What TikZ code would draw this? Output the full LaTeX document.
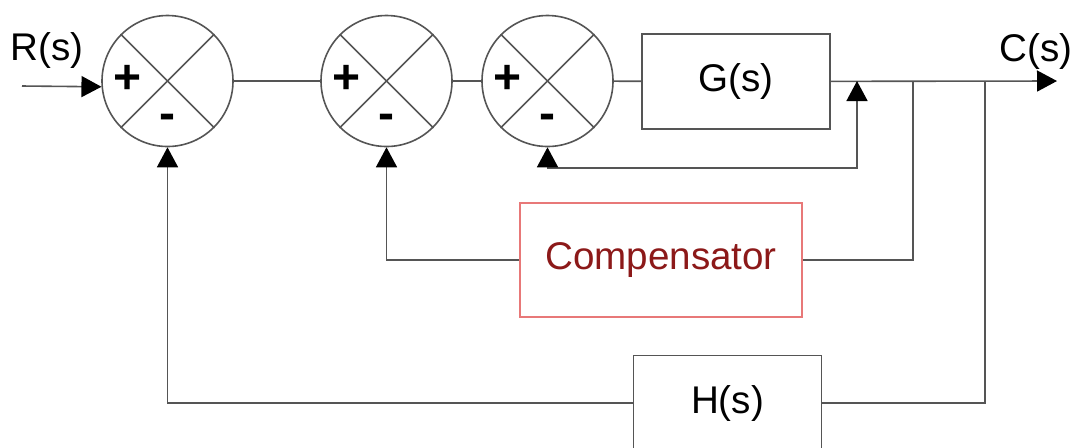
\documentclass[tikz,border=0pt]{standalone}
\usepackage{fontspec}
\setmainfont{Liberation Sans}
\usepackage{xcolor}
\usepackage{tikz}
\usetikzlibrary{positioning,arrows.meta,calc}

\definecolor{linegray}{RGB}{85,85,85}
\definecolor{compred}{RGB}{140,25,25}
\definecolor{compedge}{RGB}{232,120,120}

\begin{document}
\begin{tikzpicture}[
    x=0.5pt, y=-0.5pt,
    sumjunc/.style={draw=linegray, circle, line width=0.8pt, inner sep=0pt, minimum size=65.5pt},
    block/.style={draw=linegray, rectangle, line width=0.8pt, font=\fontsize{19.3}{22}\selectfont, minimum width=94pt, minimum height=47.5pt},
    compblock/.style={draw=compedge, rectangle, line width=0.8pt, text=compred, font=\fontsize{19.3}{22}\selectfont, minimum width=141pt, minimum height=57pt},
    sig/.style={font=\fontsize{19.3}{22}\selectfont},
    sign/.style={font=\fontsize{24}{24}\selectfont\bfseries, inner sep=0pt},
    link/.style={draw=linegray, line width=0.8pt},
    arrow/.style={link, -{Triangle[length=10pt, width=10.5pt, color=black]}},
    twoarrow/.style={link, {Triangle[length=10pt, width=10.5pt, color=black]}-{Triangle[length=10pt, width=10.5pt, color=black]}}
]
    \useasboundingbox (0,0) rectangle (1076,447);

    % forward path
    \node[sumjunc] (s1) at (167.5,81) {};
    \node[sumjunc] (s2) at (386.5,81) {};
    \node[sumjunc] (s3) at (547.5,81) {};
    \node[block] (G) at (736,81.5) {G(s)};

    \coordinate (in) at (22,86);
    \coordinate (out) at (1057,81);
    \coordinate (tapG) at (857,81);
    \coordinate (tapC) at (913,81);
    \coordinate (tapH) at (985,81);
    \coordinate (loopG) at (857,168);

    \node[sig] (R) at (47,50) {R(s)};
    \node[sig] (C) at (1036,52) {C(s)};

    % crosses and signs in the junctions
    \foreach \s in {s1,s2,s3} {
        \draw[link] (\s.45) -- (\s.225);
        \draw[link] (\s.135) -- (\s.315);
        \node[sign] (\s plus) at ([shift={(-40,-2)}]\s.center) {+};
        \node[sign] (\s minus) at ([shift={(0,41)}]\s.center) {-};
    }

    \draw[arrow] (in) -- (s1.185);
    \draw[link] (s1) -- (s2);
    \draw[link] (s2) -- (s3);
    \draw[link] (s3) -- (G);
    \draw[arrow] (G) -- (out);

    % inner loop round G(s)
    \draw[twoarrow] (s3.south) |- (loopG) -- (tapG);

    % compensator loop
    \node[compblock] (comp) at (661,260) {Compensator};
    \draw[link] (tapC) |- (comp.east);
    \draw[arrow] (comp.west) -| (s2.south);

    % outer loop through H(s)
    \node[block] (H) at (727.5,403) {H(s)};
    \draw[link] (tapH) |- (H.east);
    \draw[arrow] (H.west) -| (s1.south);

\end{tikzpicture}
\end{document}
